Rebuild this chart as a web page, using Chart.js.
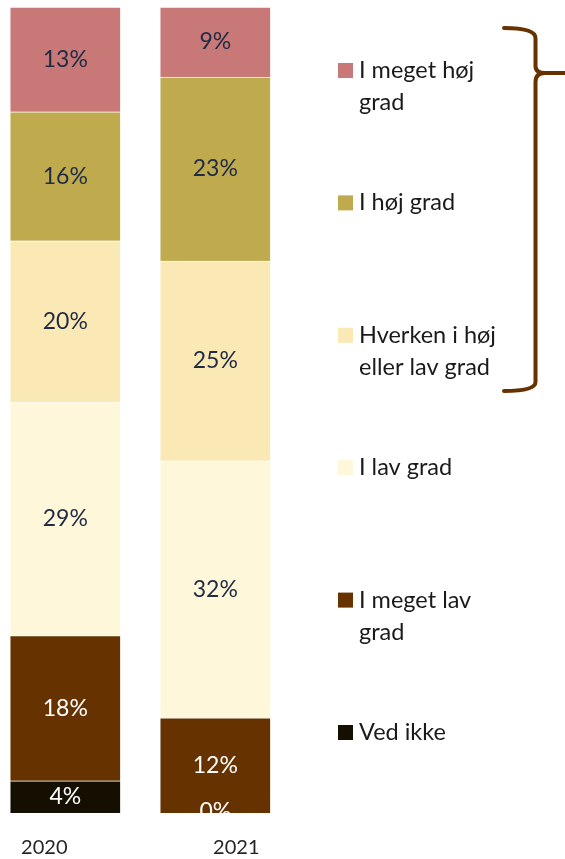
<!DOCTYPE html>
<html>
<head>
<meta charset="utf-8">
<script src="https://cdn.jsdelivr.net/npm/chart.js@4"></script>
<style>
  html, body { margin: 0; padding: 0; background: #ffffff; }
  canvas { display: block; }
</style>
</head>
<body>
<canvas id="c" width="565" height="859"></canvas>
<script>
// ---- data ----
const years = ['2020', '2021'];
const categories = ['Ved ikke', 'I meget lav grad', 'I lav grad', 'Hverken i høj eller lav grad', 'I høj grad', 'I meget høj grad'];
const values2020 = [4, 18, 29, 20, 16, 13];
const values2021 = [0, 11.8, 31.9, 24.8, 22.8, 8.7];
const seriesColors = ['#140F00', '#663300', '#FFF7DA', '#FBE9B5', '#BFAB4E', '#C97878'];
const labelColors = ['#ffffff', '#ffffff', '#1F2A44', '#1F2A44', '#1F2A44', '#1F2A44'];

const yearValues = [values2020, values2021];
const FONT = 'Lato, "Open Sans", sans-serif';

const datasets = categories.map((cat, k) => ({
  label: cat,
  data: years.map((y, i) => ({ x: i, y: yearValues[i][k] })),
  backgroundColor: seriesColors[k],
  borderColor: 'rgba(255,255,255,0.35)',
  borderWidth: 1,
  barThickness: 111
}));

const valueLabels = {
  id: 'valueLabels',
  afterDatasetsDraw(chart) {
    const ctx = chart.ctx, area = chart.chartArea;
    ctx.save();
    ctx.beginPath();
    ctx.rect(area.left, area.top, area.right - area.left, area.bottom - area.top);
    ctx.clip();
    ctx.font = '23px ' + FONT;
    ctx.textAlign = 'center';
    ctx.textBaseline = 'middle';
    chart.data.datasets.forEach((ds, k) => {
      const meta = chart.getDatasetMeta(k);
      meta.data.forEach((bar, i) => {
        const v = ds.data[i].y;
        const cy = (bar.y + bar.base) / 2;
        ctx.fillStyle = labelColors[k];
        ctx.fillText(Math.round(v) + '%', bar.x, v === 0 ? bar.base - 1 : cy);
      });
    });
    ctx.restore();
  }
};

const extras = {
  id: 'extras',
  afterDraw(chart) {
    const ctx = chart.ctx;
    const xs = chart.scales.x;
    ctx.save();
    // year labels
    ctx.font = '20px ' + FONT;
    ctx.fillStyle = '#262626';
    ctx.textAlign = 'center';
    ctx.textBaseline = 'middle';
    const yearOffsets = [-21, 21];
    years.forEach((y, i) => {
      ctx.fillText(y, xs.getPixelForValue(i) + yearOffsets[i], 848);
    });
    // legend
    const legendItems = categories.slice().reverse();
    const legendColors = seriesColors.slice().reverse();
    ctx.font = '23.5px ' + FONT;
    ctx.textAlign = 'left';
    ctx.textBaseline = 'alphabetic';
    const maxW = 150;
    legendItems.forEach((name, j) => {
      const top = 63 + j * 132.4;
      ctx.fillStyle = legendColors[j];
      ctx.fillRect(338, top, 15, 15);
      const words = name.split(' ');
      const lines = [];
      let cur = '';
      words.forEach(w => {
        const t = cur ? cur + ' ' + w : w;
        if (ctx.measureText(t).width > maxW && cur) { lines.push(cur); cur = w; }
        else cur = t;
      });
      if (cur) lines.push(cur);
      ctx.fillStyle = '#1a1a1a';
      lines.forEach((ln, li) => ctx.fillText(ln, 359, top + 15 + li * 32));
    });
    // brace
    ctx.strokeStyle = '#663300';
    ctx.lineWidth = 4;
    ctx.lineCap = 'round';
    ctx.lineJoin = 'round';
    ctx.beginPath();
    ctx.moveTo(504, 28);
    ctx.quadraticCurveTo(535.5, 28, 535.5, 38);
    ctx.lineTo(535.5, 66);
    ctx.quadraticCurveTo(535.5, 73, 545, 73);
    ctx.lineTo(565, 73);
    ctx.moveTo(545, 73);
    ctx.quadraticCurveTo(535.5, 73, 535.5, 82);
    ctx.lineTo(535.5, 382);
    ctx.quadraticCurveTo(535.5, 391, 504, 391);
    ctx.stroke();
    ctx.restore();
  }
};

new Chart(document.getElementById('c'), {
  type: 'bar',
  data: { datasets },
  options: {
    responsive: false,
    animation: false,
    devicePixelRatio: 1,
    layout: { padding: { left: 0, right: 265, top: 7, bottom: 46 } },
    plugins: { legend: { display: false }, tooltip: { enabled: false } },
    scales: {
      x: { type: 'linear', stacked: true, offset: false, min: -65.3 / 150, max: -65.3 / 150 + 2, display: false },
      y: { stacked: true, min: 0, max: 100, display: false }
    }
  },
  plugins: [valueLabels, extras]
});
</script>
</body>
</html>
